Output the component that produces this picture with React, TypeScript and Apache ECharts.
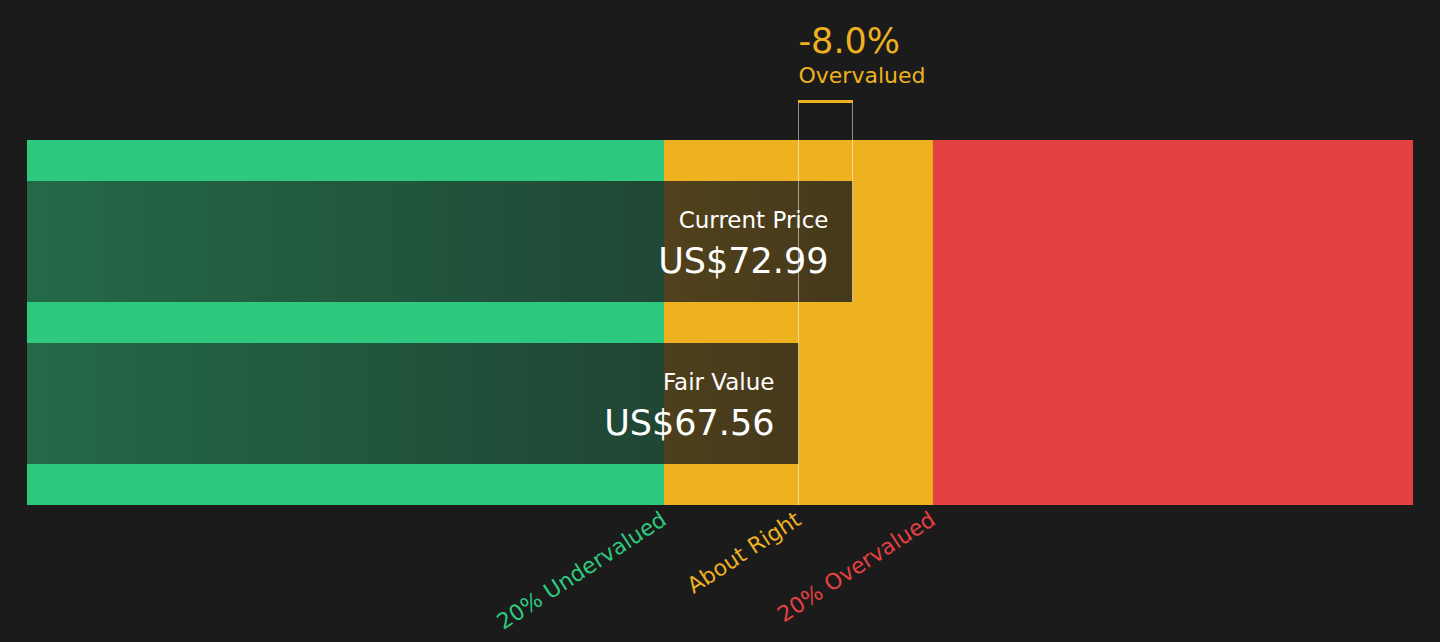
import React, { useEffect, useRef } from "react";
import * as echarts from "echarts";

// ---- data ----
const categories = ["Current Price", "Fair Value"];
const prices = [72.99, 67.56];
const priceLabels = ["US$72.99", "US$67.56"];
const zoneNames = ["20% Undervalued", "About Right", "20% Overvalued"];
const zoneFactors = [0.8, 1.2];
const axisRange = [-9.95, 129.3];
const statusText = "Overvalued";

// ---- styles ----
const zoneColors = ["#2ec97f", "#eeb11f", "#e44141"];
const BG = "#1b1b1b";
const FONT = '"DejaVu Sans", Verdana, sans-serif';
const W = 1440;
const H = 642;
const ZONE_TOP = 140;
const ZONE_BOTTOM = 505;
const BAR_GRID_TOP = 160.5;
const BAR_GRID_BOTTOM = 484.5;
const BAR_RATIO = 121 / 162;
const BRACKET_Y = 100;

export default function App() {
  const ref = useRef<HTMLDivElement>(null);

  useEffect(() => {
    document.body.style.margin = "0";
    document.body.style.background = BG;
    const chart = echarts.init(ref.current!, null, { renderer: "svg" });

    const current = prices[0];
    const fair = prices[1];
    const lower = fair * zoneFactors[0];
    const upper = fair * zoneFactors[1];
    const edges = [axisRange[0], lower, upper, axisRange[1]];
    const zoneData = zoneColors.map((_, i) => [edges[i], edges[i + 1], i]);
    const tickValues = [lower, fair, upper];
    const pct = ((fair - current) / fair) * 100;

    const barFill = new echarts.graphic.LinearGradient(0, 0, 1, 0, [
      { offset: 0, color: "rgba(27,27,27,0.55)" },
      { offset: 1, color: "rgba(27,27,27,0.8)" },
    ]);

    const rich: any = {};
    zoneColors.forEach((c, i) => {
      rich["z" + i] = { color: c, fontSize: 22, fontFamily: FONT };
    });

    chart.setOption({
      animation: false,
      backgroundColor: BG,
      grid: [
        {
          left: 27,
          right: 27,
          top: ZONE_TOP,
          bottom: H - ZONE_BOTTOM,
          containLabel: false,
          outerBoundsMode: "none",
        },
        {
          left: 27,
          right: 27,
          top: BAR_GRID_TOP,
          bottom: H - BAR_GRID_BOTTOM,
          containLabel: false,
          outerBoundsMode: "none",
        },
      ],
      xAxis: [
        {
          type: "value",
          gridIndex: 0,
          min: axisRange[0],
          max: axisRange[1],
          axisLine: { show: false },
          axisTick: { show: false },
          splitLine: { show: false },
          axisLabel: {
            customValues: tickValues,
            rotate: 33,
            margin: 12,
            fontSize: 22,
            fontFamily: FONT,
            formatter: (v: number) => {
              let idx = 0;
              let best = Infinity;
              tickValues.forEach((t, i) => {
                const d = Math.abs(t - v);
                if (d < best) {
                  best = d;
                  idx = i;
                }
              });
              return `{z${idx}|${zoneNames[idx]}}`;
            },
            rich,
          },
        },
        {
          type: "value",
          gridIndex: 1,
          min: axisRange[0],
          max: axisRange[1],
          show: false,
        },
      ],
      yAxis: [
        { type: "value", gridIndex: 0, min: 0, max: 1, show: false },
        {
          type: "category",
          gridIndex: 1,
          data: categories,
          inverse: true,
          show: false,
        },
      ],
      series: [
        {
          type: "custom",
          xAxisIndex: 0,
          yAxisIndex: 0,
          data: zoneData,
          renderItem: (_p: any, api: any) => {
            const p0 = api.coord([api.value(0), 1]);
            const p1 = api.coord([api.value(1), 0]);
            return {
              type: "rect",
              shape: {
                x: p0[0],
                y: p0[1],
                width: p1[0] - p0[0],
                height: p1[1] - p0[1],
              },
              style: { fill: zoneColors[api.value(2)] },
            };
          },
        },
        {
          type: "custom",
          xAxisIndex: 1,
          yAxisIndex: 1,
          z: 5,
          data: prices.map((v, i) => [v, i]),
          renderItem: (_p: any, api: any) => {
            const val = api.value(0);
            const cat = api.value(1);
            const s = api.coord([axisRange[0], cat]);
            const e = api.coord([val, cat]);
            const band = api.size([0, 1])[1];
            const h = band * BAR_RATIO;
            return {
              type: "group",
              children: [
                {
                  type: "rect",
                  shape: { x: s[0], y: s[1] - h / 2, width: e[0] - s[0], height: h },
                  style: { fill: barFill },
                },
                {
                  type: "text",
                  x: e[0] - 24,
                  y: s[1] - 21.5,
                  style: {
                    text: categories[cat],
                    fill: "#ffffff",
                    fontSize: 23,
                    fontFamily: FONT,
                    align: "right",
                    verticalAlign: "middle",
                  },
                },
                {
                  type: "text",
                  x: e[0] - 24,
                  y: s[1] + 19.5,
                  style: {
                    text: priceLabels[cat],
                    fill: "#ffffff",
                    fontSize: 35,
                    fontFamily: FONT,
                    align: "right",
                    verticalAlign: "middle",
                  },
                },
              ],
            };
          },
        },
      ],
    });

    const xf = chart.convertToPixel({ xAxisIndex: 0 }, fair) as number;
    const xc = chart.convertToPixel({ xAxisIndex: 0 }, current) as number;
    const cy = chart.convertToPixel({ yAxisIndex: 1 }, categories[0]) as number;
    const band = (BAR_GRID_BOTTOM - BAR_GRID_TOP) / categories.length;
    const curBottom = cy + (band * BAR_RATIO) / 2;
    const lx = Math.round(xf) + 0.5;
    const cx = Math.round(xc) - 0.5;
    const lineStyle = { stroke: "rgba(255,255,255,0.5)", lineWidth: 1 };

    chart.setOption({
      graphic: [
        {
          type: "line",
          z: 100,
          shape: { x1: lx, y1: BRACKET_Y, x2: lx, y2: ZONE_BOTTOM },
          style: lineStyle,
        },
        {
          type: "line",
          z: 100,
          shape: { x1: cx, y1: BRACKET_Y, x2: cx, y2: curBottom },
          style: lineStyle,
        },
        {
          type: "rect",
          z: 101,
          shape: { x: Math.round(xf), y: BRACKET_Y, width: Math.round(xc) - Math.round(xf), height: 3 },
          style: { fill: zoneColors[1] },
        },
        {
          type: "text",
          z: 101,
          x: xf,
          y: 41,
          style: {
            text: `${pct.toFixed(1)}%`,
            fill: zoneColors[1],
            fontSize: 35,
            fontFamily: FONT,
            align: "left",
            textAlign: "left",
            verticalAlign: "middle",
            textVerticalAlign: "middle",
          },
        },
        {
          type: "text",
          z: 101,
          x: xf,
          y: 75.5,
          style: {
            text: statusText,
            fill: zoneColors[1],
            fontSize: 22,
            fontFamily: FONT,
            align: "left",
            textAlign: "left",
            verticalAlign: "middle",
            textVerticalAlign: "middle",
          },
        },
      ],
    });

    return () => chart.dispose();
  }, []);

  return (
    <div
      ref={ref}
      style={{ position: "absolute", left: 0, top: 0, width: W, height: H, background: BG }}
    />
  );
}
